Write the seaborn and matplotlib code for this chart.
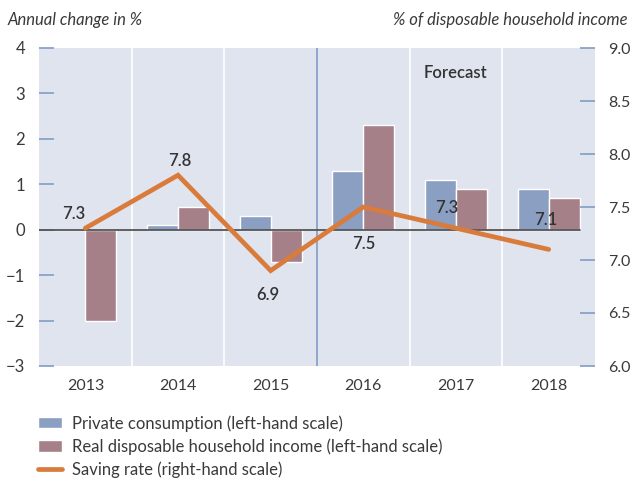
import numpy as np
import pandas as pd
import matplotlib
matplotlib.use('Agg')
import matplotlib.pyplot as plt
import seaborn as sns
from matplotlib.patches import Patch
from matplotlib.lines import Line2D

# Data
years = ['2013', '2014', '2015', '2016', '2017', '2018']
private_consumption = [0.0, 0.1, 0.3, 1.3, 1.1, 0.9]
real_income = [-2.0, 0.5, -0.7, 2.3, 0.9, 0.7]
saving_rate = [7.3, 7.8, 6.9, 7.5, 7.3, 7.1]

series_names = ['Private consumption (left-hand scale)',
                'Real disposable household income (left-hand scale)',
                'Saving rate (right-hand scale)']

blue = '#8a9fc2'
red = '#a68088'
orange = '#d97b3b'
bg = '#e0e4ef'
tick_blue = '#7f9cc4'
text_col = '#3a3a3a'

sns.set_theme(style='white')
plt.rcParams['font.family'] = ['Lato', 'DejaVu Sans']

df = pd.DataFrame({
    'year': years * 2,
    'value': private_consumption + real_income,
    'series': [series_names[0]] * 6 + [series_names[1]] * 6,
})

fig = plt.figure(figsize=(6.31, 4.79), dpi=100)
ax = fig.add_axes([39 / 631, 1 - 366 / 479, 556 / 631, 318 / 479])
ax.set_facecolor(bg)

sns.barplot(data=df, x='year', y='value', hue='series', palette=[blue, red],
            width=0.67, saturation=1, errorbar=None, legend=False, ax=ax, zorder=2)

# separators between years, blue one marks start of forecast
for x in [0.5, 1.5, 3.5, 4.5]:
    ax.axvline(x, color='white', lw=1.2, zorder=1)
ax.axvline(2.5, color=tick_blue, lw=1.2, zorder=1)
ax.axhline(0, color='#555555', lw=1.3, xmax=0.973, zorder=3)

ax.set_ylim(-3, 4)
ax.set_yticks(range(-3, 5))
ax.set_xlabel('')
ax.set_ylabel('')
for s in ax.spines.values():
    s.set_visible(False)
ax.tick_params(axis='y', direction='in', length=11, width=1.2, color=tick_blue,
               pad=10, labelsize=12, labelcolor=text_col, left=True)
ax.tick_params(axis='x', length=0, pad=9, labelsize=11.5, labelcolor=text_col)

ax.text(4, 3.45, 'Forecast', ha='center', va='center', fontsize=12,
        fontweight='semibold', color='#333333')

# saving rate on the right-hand scale
ax2 = ax.twinx()
sns.lineplot(x=np.arange(len(years)), y=saving_rate, ax=ax2, color=orange,
             lw=3.4, solid_joinstyle='miter')
ax2.set_ylim(6, 9)
ax2.set_yticks([6.0, 6.5, 7.0, 7.5, 8.0, 8.5, 9.0])
ax2.set_yticklabels([f'{v:.1f}' for v in [6.0, 6.5, 7.0, 7.5, 8.0, 8.5, 9.0]])
for s in ax2.spines.values():
    s.set_visible(False)
ax2.tick_params(axis='y', direction='in', length=11, width=1.2, color=tick_blue,
                pad=9.5, labelsize=11.5, labelcolor=text_col, right=True)

offsets = [(-12, 14), (2, 14), (-3, -24), (0, -37), (-9, 20), (-3, 29)]
for i, v in enumerate(saving_rate):
    ax2.annotate(f'{v:.1f}', (i, v), xytext=offsets[i], textcoords='offset pixels',
                 ha='center', va='center', fontsize=12, fontweight='semibold',
                 color='#333333')

ax.set_xlim(-0.5, 5.5)

fig.text(8 / 631, 1 - 20 / 479, 'Annual change in %', style='italic',
         fontsize=12, color=text_col, va='center', ha='left')
fig.text(628 / 631, 1 - 20 / 479, '% of disposable household income',
         style='italic', fontsize=12, color=text_col, va='center', ha='right')

handles = [Patch(facecolor=blue), Patch(facecolor=red),
           Line2D([0], [0], color=orange, lw=3.4)]
fig.legend(handles, series_names, loc='upper left',
           bbox_to_anchor=(38 / 631, 1 - 415 / 479), frameon=False,
           fontsize=12, handlelength=1.45, handleheight=0.65, labelspacing=0.4,
           handletextpad=0.6, borderaxespad=0, borderpad=0, labelcolor=text_col)

fig.savefig('out.png', dpi=100)
